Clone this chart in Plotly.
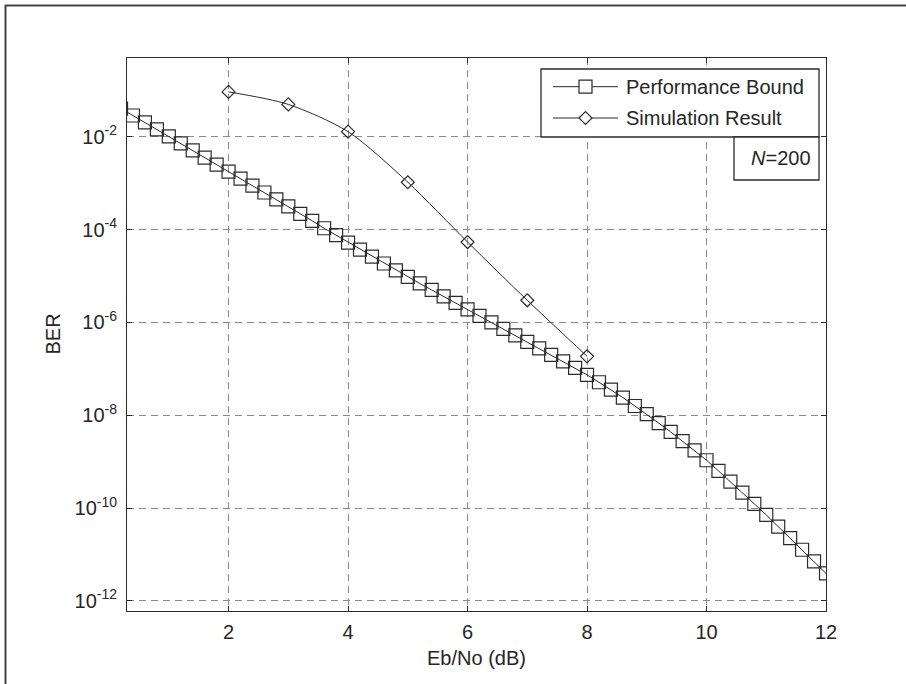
import plotly.graph_objects as go

# ---- data ----
ebno_bound = [0.2, 0.4, 0.6, 0.8, 1.0, 1.2, 1.4, 1.6, 1.8, 2.0,
              2.2, 2.4, 2.6, 2.8, 3.0, 3.2, 3.4, 3.6, 3.8, 4.0,
              4.2, 4.4, 4.6, 4.8, 5.0, 5.2, 5.4, 5.6, 5.8, 6.0,
              6.2, 6.4, 6.6, 6.8, 7.0, 7.2, 7.4, 7.6, 7.8, 8.0,
              8.2, 8.4, 8.6, 8.8, 9.0, 9.2, 9.4, 9.6, 9.8, 10.0,
              10.2, 10.4, 10.6, 10.8, 11.0, 11.2, 11.4, 11.6, 11.8, 12.0]
ber_bound = [4.07e-2, 2.88e-2, 2.04e-2, 1.45e-2, 1.02e-2, 7.24e-3, 5.13e-3, 3.55e-3, 2.51e-3, 1.78e-3,
             1.26e-3, 8.91e-4, 6.31e-4, 4.47e-4, 3.16e-4, 2.19e-4, 1.55e-4, 1.07e-4, 7.59e-5, 5.25e-5,
             3.72e-5, 2.63e-5, 1.86e-5, 1.32e-5, 9.55e-6, 6.92e-6, 5.01e-6, 3.63e-6, 2.63e-6, 1.91e-6,
             1.38e-6, 1.00e-6, 7.24e-7, 5.25e-7, 3.80e-7, 2.75e-7, 2.00e-7, 1.45e-7, 1.05e-7, 7.41e-8,
             5.13e-8, 3.55e-8, 2.40e-8, 1.58e-8, 1.05e-8, 6.76e-9, 4.37e-9, 2.75e-9, 1.74e-9, 1.07e-9,
             6.31e-10, 3.72e-10, 2.14e-10, 1.23e-10, 7.08e-11, 3.98e-11, 2.24e-11, 1.26e-11, 7.08e-12, 3.89e-12]

ebno_sim = [2, 3, 4, 5, 6, 7, 8]
ber_sim = [9.3e-2, 5.0e-2, 1.29e-2, 1.05e-3, 5.4e-5, 3.0e-6, 1.86e-7]

x_ticks = [2, 4, 6, 8, 10, 12]
x_ticklabels = ["2", "4", "6", "8", "10", "12"]
y_ticks = [1e-12, 1e-10, 1e-8, 1e-6, 1e-4, 1e-2]
y_ticklabels = ["10<sup>-12</sup>", "10<sup>-10</sup>", "10<sup>-8</sup>",
                "10<sup>-6</sup>", "10<sup>-4</sup>", "10<sup>-2</sup>"]

series_names = ["Performance Bound", "Simulation Result"]
x_title = "Eb/No (dB)"
y_title = "BER"
note_text = "<i>N</i>=200"

# ---- styling ----
FONT = "Liberation Sans, Arial, Helvetica, sans-serif"
TXT = "#262626"
LINE = "#2b2b2b"
GRID = "#8a8a8a"

W, H = 906, 684
L, R, T, B = 127, 826, 58, 611
PW, PH = R - L, B - T


def px(xp):
    return (xp - L) / PW


def py(yp):
    return (B - yp) / PH


fig = go.Figure()
fig.add_trace(go.Scatter(
    x=ebno_bound, y=ber_bound, name=series_names[0], mode="lines+markers",
    line=dict(color=LINE, width=1),
    marker=dict(symbol="square-open", size=13, color=LINE, line=dict(width=1.2, color=LINE)),
    showlegend=False,
))
fig.add_trace(go.Scatter(
    x=ebno_sim, y=ber_sim, name=series_names[1], mode="lines+markers",
    line=dict(color=LINE, width=1, shape="spline", smoothing=0.8),
    marker=dict(symbol="diamond-open", size=10, color=LINE, line=dict(width=1.2, color=LINE)),
    showlegend=False,
))

axis_common = dict(
    showline=True, linecolor=LINE, linewidth=1, mirror="ticks",
    ticks="inside", ticklen=5, tickcolor=LINE, tickwidth=1,
    showgrid=True, gridcolor=GRID, gridwidth=1, griddash="7px,5px",
    zeroline=False, tickfont=dict(family=FONT, size=20, color=TXT),
)

fig.update_xaxes(range=[0.3, 12], tickvals=x_ticks, ticktext=x_ticklabels,
                 ticklabelstandoff=3, **axis_common)
fig.update_yaxes(type="log", range=[-12.22, -0.301], tickvals=y_ticks, ticktext=y_ticklabels,
                 ticklabelstandoff=5, **axis_common)

# ---- manual legend (MATLAB style) ----
leg_x0, leg_x1, leg_y0, leg_y1 = 541, 819, 69, 137
row_y = [86.7, 118.0]
seg_x0, seg_x1, mk_x, half = 553, 618, 585.5, 6.5

shapes = [
    # outer frame (top and left)
    dict(type="line", xref="paper", yref="paper", x0=px(5), x1=px(906), y0=py(5.5), y1=py(5.5),
         line=dict(color="#444444", width=2)),
    dict(type="line", xref="paper", yref="paper", x0=px(5.5), x1=px(5.5), y0=py(5), y1=py(684),
         line=dict(color="#444444", width=2)),
    # legend box
    dict(type="rect", xref="paper", yref="paper", x0=px(leg_x0), x1=px(leg_x1),
         y0=py(leg_y1), y1=py(leg_y0), line=dict(color=LINE, width=1.3),
         fillcolor="white", layer="above"),
    # N box
    dict(type="rect", xref="paper", yref="paper", x0=px(734), x1=px(leg_x1), y0=py(180), y1=py(leg_y1),
         line=dict(color=LINE, width=1.3), fillcolor="white", layer="above"),
]
for ry in row_y:
    shapes.append(dict(type="line", xref="paper", yref="paper", x0=px(seg_x0), x1=px(seg_x1),
                       y0=py(ry), y1=py(ry), line=dict(color=LINE, width=1), layer="above"))
# square glyph
ry = row_y[0]
shapes.append(dict(type="rect", xref="paper", yref="paper",
                   x0=px(mk_x - half), x1=px(mk_x + half), y0=py(ry + half), y1=py(ry - half),
                   line=dict(color=LINE, width=1.2), fillcolor="white", layer="above"))
# diamond glyph
ry = row_y[1]
dpath = "M {a},{b} L {c},{d} L {e},{f} L {g},{h} Z".format(
    a=px(mk_x - half), b=py(ry), c=px(mk_x), d=py(ry - half),
    e=px(mk_x + half), f=py(ry), g=px(mk_x), h=py(ry + half))
shapes.append(dict(type="path", xref="paper", yref="paper", path=dpath,
                   line=dict(color=LINE, width=1.2), fillcolor="white", layer="above"))

annotations = [
    dict(text=series_names[0], xref="paper", yref="paper", x=px(624), y=py(row_y[0]),
         xanchor="left", yanchor="middle", showarrow=False,
         font=dict(family=FONT, size=20, color=TXT)),
    dict(text=series_names[1], xref="paper", yref="paper", x=px(624), y=py(row_y[1]),
         xanchor="left", yanchor="middle", showarrow=False,
         font=dict(family=FONT, size=20, color=TXT)),
    dict(text=note_text, xref="paper", yref="paper", x=px(813), y=py(158),
         xanchor="right", yanchor="middle", showarrow=False,
         font=dict(family=FONT, size=20, color=TXT)),
    dict(text=x_title, xref="paper", yref="paper", x=0.5, y=py(658),
         xanchor="center", yanchor="middle", showarrow=False,
         font=dict(family=FONT, size=20, color=TXT)),
    dict(text=y_title, xref="paper", yref="paper", x=px(52), y=0.5, textangle=-90,
         xanchor="center", yanchor="middle", showarrow=False,
         font=dict(family=FONT, size=20, color=TXT)),
]

fig.update_layout(
    width=W, height=H,
    margin=dict(l=L, r=W - R, t=T, b=H - B, pad=0),
    paper_bgcolor="white", plot_bgcolor="white",
    font=dict(family=FONT, size=20, color=TXT),
    showlegend=False,
    shapes=shapes,
    annotations=annotations,
)

fig.write_html("out.html")
